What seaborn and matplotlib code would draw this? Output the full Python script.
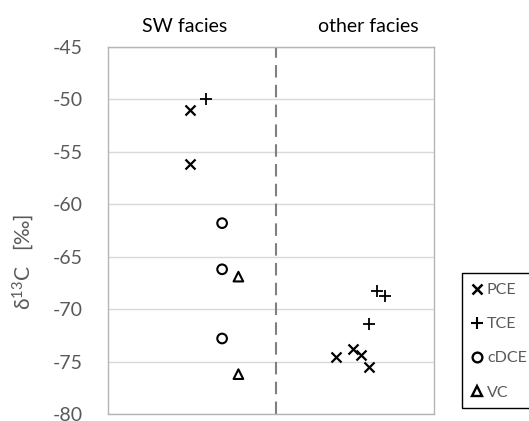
import matplotlib
matplotlib.use("Agg")
import matplotlib.pyplot as plt
from matplotlib.lines import Line2D
from matplotlib.patches import Rectangle
import seaborn as sns
import pandas as pd

# ---- data ----
compounds = ["PCE", "TCE", "cDCE", "VC"]
facies_labels = ["SW facies", "other facies"]
yticks = [-45, -50, -55, -60, -65, -70, -75, -80]

pce_x = [0.5, 0.5, 1.4, 1.5, 1.55, 1.6]
pce_y = [-51.0, -56.2, -74.6, -73.8, -74.4, -75.5]
tce_x = [0.6, 1.65, 1.7, 1.6]
tce_y = [-50.0, -68.3, -68.7, -71.4]
cdce_x = [0.7, 0.7, 0.7]
cdce_y = [-61.8, -66.2, -72.8]
vc_x = [0.8, 0.8]
vc_y = [-66.9, -76.2]
divider_x = 1.03

df = pd.DataFrame({
    "x": pce_x + tce_x + cdce_x + vc_x,
    "d13C": pce_y + tce_y + cdce_y + vc_y,
    "compound": ["PCE"] * len(pce_x) + ["TCE"] * len(tce_x)
    + ["cDCE"] * len(cdce_x) + ["VC"] * len(vc_x),
})

sns.set_theme(style="white")
plt.rcParams["font.family"] = ["Lato", "DejaVu Sans"]
plt.rcParams["mathtext.fontset"] = "custom"
plt.rcParams["mathtext.rm"] = "Lato"
plt.rcParams["mathtext.it"] = "Lato:italic"

fig = plt.figure(figsize=(5.29, 4.21), dpi=100)
ax = fig.add_axes([108 / 529, 7 / 421, 326 / 529, 367 / 421])

styles = {
    "PCE": dict(marker="x", s=52, linewidth=1.6, color="black"),
    "TCE": dict(marker="+", s=80, linewidth=1.3, color="black"),
    "cDCE": dict(marker="o", s=48, linewidth=1.5, facecolors="none", edgecolor="black"),
    "VC": dict(marker="^", s=48, linewidth=1.5, facecolors="none", edgecolor="black"),
}
for c in compounds:
    sub = df[df["compound"] == c]
    sns.scatterplot(data=sub, x="x", y="d13C", ax=ax, legend=False, zorder=3, **styles[c])

ax.set_xlim(0, 2)
ax.set_ylim(-80, -45)
ax.set_yticks(yticks)
ax.set_yticklabels([str(v) for v in yticks])
ax.set_xticks([])
ax.set_xlabel("")
ax.tick_params(axis="y", length=0, pad=18, labelsize=14, labelcolor="#595959")
ax.grid(axis="y", color="#d9d9d9", linewidth=1)
for sp in ax.spines.values():
    sp.set_visible(True)
    sp.set_color("#b5b5b5")
    sp.set_linewidth(1)

ax.axvline(divider_x, color="#808080", linestyle=(0, (6, 3.5)), linewidth=1.5, zorder=2)

ax.set_ylabel("δ$^{13}$C   [‰]", fontsize=15, color="#595959")
ax.yaxis.set_label_coords(-0.222, 0.414)

ax.text(0.234, 1.057, facies_labels[0], transform=ax.transAxes, ha="center", va="center",
        fontsize=14, color="black")
ax.text(0.797, 1.057, facies_labels[1], transform=ax.transAxes, ha="center", va="center",
        fontsize=14, color="black")

handles = [
    Line2D([], [], linestyle="none", marker="x", markersize=7, markeredgewidth=1.8, color="black"),
    Line2D([], [], linestyle="none", marker="+", markersize=8, markeredgewidth=1.5, color="black"),
    Line2D([], [], linestyle="none", marker="o", markersize=7, markeredgewidth=1.7,
           markerfacecolor="none", markeredgecolor="black"),
    Line2D([], [], linestyle="none", marker="^", markersize=7, markeredgewidth=1.7,
           markerfacecolor="none", markeredgecolor="black"),
]
leg = fig.legend(handles, compounds, loc="upper left", bbox_to_anchor=(463 / 529, 1 - 275 / 421),
                 bbox_transform=fig.transFigure, borderaxespad=0, frameon=False,
                 fontsize=11.5, labelspacing=1.25, handlelength=0.7, handletextpad=0.3,
                 borderpad=0.5, labelcolor="#595959")
# legend frame (extends past the right edge as in the reference)
fig.patches.append(Rectangle((462 / 529, 1 - 408 / 421), 90 / 529, 135 / 421,
                             transform=fig.transFigure, fill=False, edgecolor="black",
                             linewidth=1, zorder=5))

fig.savefig("out.png", dpi=100)
